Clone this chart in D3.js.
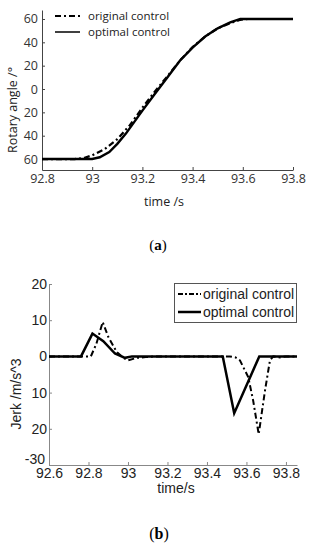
<!DOCTYPE html>
<html>
<head>
<meta charset="utf-8">
<script src="https://cdn.jsdelivr.net/npm/d3@7"></script>
<style>
  body { margin: 0; background: #fff; }
  svg { display: block; }
</style>
</head>
<body>
<svg id="chart" width="315" height="550"></svg>
<script>
// series names for both panels
var seriesNames = ["original control", "optimal control"]

// (a) rotary angle
var angleTicksX = [92.8, 93, 93.2, 93.4, 93.6, 93.8]
var angleTicksY = [-60, -40, -20, 0, 20, 40, 60]
var angleTickLabels = ["60", "40", "20", "0", "20", "40", "60"]
var angleTimeOriginal = [92.8, 92.93, 92.97, 93.0, 93.05, 93.1, 93.15, 93.2, 93.25, 93.3, 93.35, 93.4, 93.45, 93.5, 93.55, 93.59, 93.62, 93.8]
var angleOriginal = [-60, -60, -59, -56.8, -51.5, -43, -31, -16, -2, 11, 24.5, 36, 45, 52, 56.5, 59.3, 60, 60]
var angleTimeOptimal = [92.8, 93.0, 93.03, 93.068, 93.1, 93.135, 93.2, 93.25, 93.3, 93.35, 93.4, 93.45, 93.5, 93.55, 93.59, 93.8]
var angleOptimal = [-60, -60, -58.5, -54, -47, -38, -18.5, -4, 10, 24.5, 35.5, 45, 52, 57, 60, 60]

// (b) jerk
var jerkTicksX = [92.6, 92.8, 93, 93.2, 93.4, 93.6, 93.8]
var jerkTicksY = [-30, -20, -10, 0, 10, 20]
var jerkTickLabels = ["-30", "20", "10", "0", "10", "20"]
var jerkTimeOriginal = [92.6, 92.812, 92.84, 92.872, 92.9, 92.943, 92.975, 93.0, 93.044, 93.09, 93.13, 93.516, 93.545, 93.567, 93.609, 93.634, 93.662, 93.694, 93.719, 93.736, 93.77, 93.8, 93.856]
var jerkOriginal = [0, 0, 3.5, 9.5, 5.4, 1.2, -0.3, -1.1, -0.4, -0.2, 0, 0, -0.3, -1.1, -5.7, -12.2, -21.5, -9.4, -1.1, 0, -0.3, 0, 0]
var jerkTimeOptimal = [92.6, 92.762, 92.82, 92.875, 92.934, 92.985, 93.02, 93.48, 93.538, 93.665, 93.856]
var jerkOptimal = [0, 0, 6.3, 4.2, 0.8, -0.4, 0, 0, -15.7, 0, 0]

var dashDot = "6,3,2,3"
var svg = d3.select("#chart")

function zip(xs, ys) { return xs.map((x, i) => [x, ys[i]]) }

function drawAngle(){
    var sans = "'Open Sans', sans-serif"
    var x = d3.scaleLinear().domain([92.8, 93.8]).range([42, 293])
    var y = d3.scaleLinear().domain([-69.4, 67.7]).range([170, 10])
    var g = svg.append("g")

    var xAxis = g.append("g")
       .attr("transform", "translate(0,170)")
       .call(d3.axisBottom(x).tickValues(angleTicksX).tickSize(-3).tickSizeOuter(0).tickPadding(4)
               .tickFormat(d3.format("")))
    var yAxis = g.append("g")
       .attr("transform", "translate(42,0)")
       .call(d3.axisLeft(y).tickValues(angleTicksY).tickSize(-3).tickSizeOuter(0).tickPadding(4)
               .tickFormat((d, i) => angleTickLabels[i]))
    ;[xAxis, yAxis].forEach(a => {
        a.selectAll("path, line").attr("stroke", "#444")
        a.selectAll("text").attr("fill", "#333").style("font-family", sans).style("font-size", "12.5px")
    })

    var line = d3.line().x(d => x(d[0])).y(d => y(d[1]))
    g.append("path").datum(zip(angleTimeOptimal, angleOptimal))
       .attr("d", line).attr("fill", "none").attr("stroke", "#000").attr("stroke-width", 2.4)
    g.append("path").datum(zip(angleTimeOriginal, angleOriginal))
       .attr("d", line).attr("fill", "none").attr("stroke", "#000").attr("stroke-width", 2.2)
       .attr("stroke-dasharray", dashDot)

    // legend
    var leg = g.append("g")
    seriesNames.forEach((name, i) => {
        var ly = 16 + i * 16
        leg.append("line").attr("x1", 55).attr("x2", 80).attr("y1", ly).attr("y2", ly)
           .attr("stroke", "#000").attr("stroke-width", i == 0 ? 2.2 : 1.5)
           .attr("stroke-dasharray", i == 0 ? dashDot : null)
        leg.append("text").attr("x", 88).attr("y", ly + 4).text(name)
           .style("font-family", sans).style("font-size", "11.5px").attr("fill", "#222")
    })

    g.append("text").attr("x", 164).attr("y", 206).attr("text-anchor", "middle")
       .text("time /s").style("font-family", sans).style("font-size", "12.5px").attr("fill", "#222")
    g.append("text").attr("transform", "translate(17,110) rotate(-90)").attr("text-anchor", "middle")
       .text("Rotary angle  /°").style("font-family", sans).style("font-size", "12.5px").attr("fill", "#222")

    var cap = g.append("text").attr("x", 158).attr("y", 250).attr("text-anchor", "middle")
       .style("font-family", "'Liberation Serif', serif").style("font-size", "15px")
    cap.append("tspan").text("(")
    cap.append("tspan").attr("font-weight", "bold").text("a")
    cap.append("tspan").text(")")
}

function drawJerk(){
    var sans = "'Liberation Sans', Arial, sans-serif"
    var x = d3.scaleLinear().domain([92.6, 93.856]).range([49, 297])
    var y = d3.scaleLinear().domain([-30, 20]).range([465, 284])
    var g = svg.append("g")

    var xAxis = g.append("g")
       .attr("transform", "translate(0,465)")
       .call(d3.axisBottom(x).tickValues(jerkTicksX).tickSize(-3).tickSizeOuter(0).tickPadding(3)
               .tickFormat(d3.format("")))
    var yAxis = g.append("g")
       .attr("transform", "translate(49,0)")
       .call(d3.axisLeft(y).tickValues(jerkTicksY).tickSize(-3).tickSizeOuter(0).tickPadding(2)
               .tickFormat((d, i) => jerkTickLabels[i]))
    ;[xAxis, yAxis].forEach(a => {
        a.selectAll("path, line").attr("stroke", "#888")
        a.selectAll("text").attr("fill", "#222").style("font-family", sans).style("font-size", "14px")
    })
    // the lowest label sits just above the first time label, as in the original
    yAxis.selectAll("text").filter(d => d == -30).attr("dy", "-0.12em").attr("x", -4)

    var line = d3.line().x(d => x(d[0])).y(d => y(d[1]))
    g.append("path").datum(zip(jerkTimeOptimal, jerkOptimal))
       .attr("d", line).attr("fill", "none").attr("stroke", "#000").attr("stroke-width", 2.5)
    g.append("path").datum(zip(jerkTimeOriginal, jerkOriginal))
       .attr("d", line).attr("fill", "none").attr("stroke", "#000").attr("stroke-width", 2)
       .attr("stroke-dasharray", dashDot)

    // legend box
    var leg = g.append("g")
    leg.append("rect").attr("x", 174.5).attr("y", 283.5).attr("width", 122).attr("height", 39)
       .attr("fill", "#fff").attr("stroke", "#555").attr("stroke-width", 1)
    seriesNames.forEach((name, i) => {
        var ly = 294 + i * 18
        leg.append("line").attr("x1", 178).attr("x2", 201).attr("y1", ly).attr("y2", ly)
           .attr("stroke", "#000").attr("stroke-width", i == 0 ? 2.2 : 2.5)
           .attr("stroke-dasharray", i == 0 ? "5,2,2,2" : null)
        leg.append("text").attr("x", 203).attr("y", ly + 5).text(name)
           .style("font-family", sans).style("font-size", "14px").attr("fill", "#222")
    })

    g.append("text").attr("x", 176).attr("y", 493).attr("text-anchor", "middle")
       .text("time/s").style("font-family", sans).style("font-size", "14px").attr("fill", "#222")
    g.append("text").attr("transform", "translate(21,394) rotate(-90)").attr("text-anchor", "middle")
       .text("Jerk /m/s^3").style("font-family", sans).style("font-size", "14px").attr("fill", "#222")

    var cap = g.append("text").attr("x", 159).attr("y", 539).attr("text-anchor", "middle")
       .style("font-family", "'Liberation Serif', serif").style("font-size", "16px")
    cap.append("tspan").text("(")
    cap.append("tspan").attr("font-weight", "bold").text("b")
    cap.append("tspan").text(")")
}

drawAngle()
drawJerk()
</script>
</body>
</html>
